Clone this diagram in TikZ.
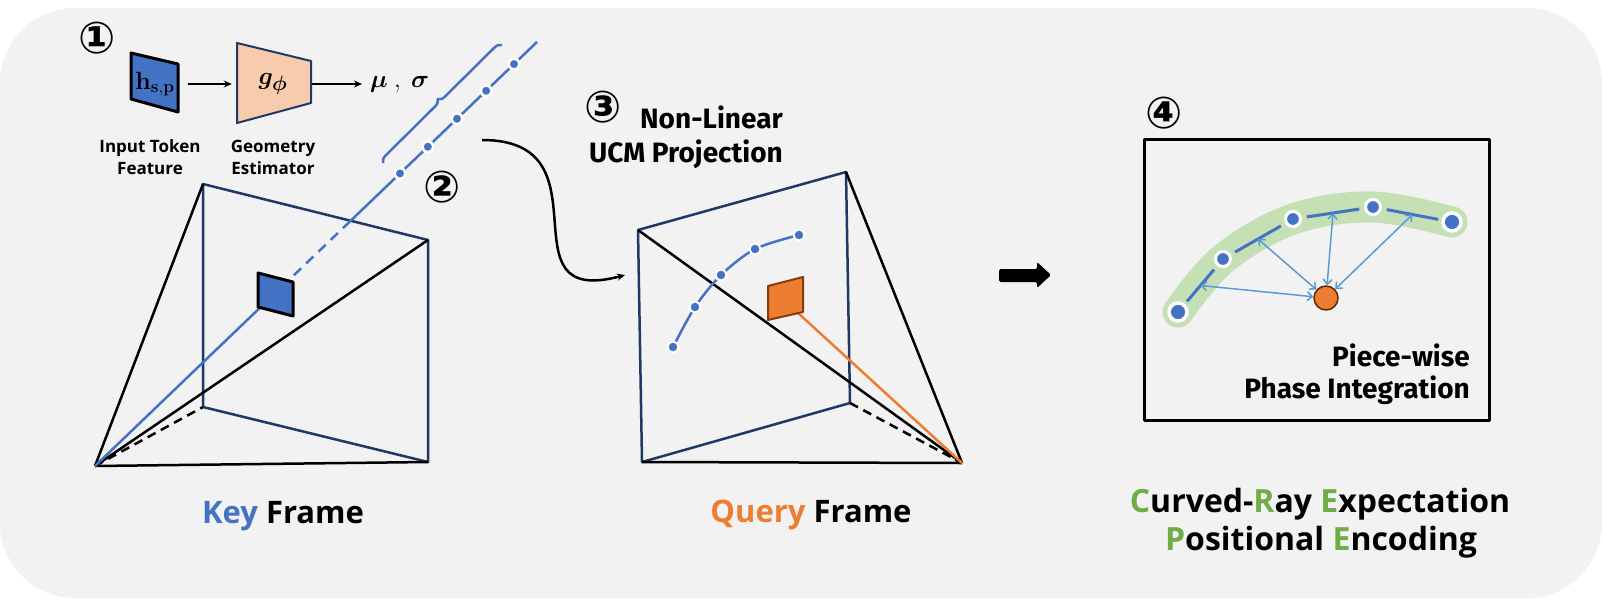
\documentclass[tikz,border=0pt]{standalone}
\usepackage[no-math]{fontspec}
\usepackage{bm}
\usepackage{xcolor}
\usetikzlibrary{positioning, arrows.meta, calc, decorations.pathreplacing}
\setmainfont{Open Sans}
\newfontfamily\dispfont{Fira Sans}
\newfontfamily\circfont{DejaVu Sans}
\definecolor{bggray}{HTML}{F2F2F2}
\definecolor{keyblue}{HTML}{4472C4}
\definecolor{navy}{HTML}{1F3864}
\definecolor{peach}{HTML}{F8CBAD}
\definecolor{qorange}{HTML}{ED7D31}
\definecolor{qbrown}{HTML}{843C0C}
\definecolor{lightblue}{HTML}{5B9BD5}
\definecolor{bandgreen}{HTML}{C5E0B4}
\definecolor{cregreen}{HTML}{70AD47}

\begin{document}
\begin{tikzpicture}[
    x = 1pt, y = -1pt,
    line join = round,
    plane/.style = {draw=navy, line width=2.5pt},
    edge/.style = {draw=black, line width=2.5pt},
    ray/.style = {draw=keyblue, line width=2.5pt},
    flow/.style = {-{Stealth[length=8pt, width=7pt]}, line width=1.5pt},
    pairarrow/.style = {{Straight Barb[length=5pt, width=9pt]}-{Straight Barb[length=5pt, width=9pt]}, draw=lightblue, line width=1.5pt},
    raydot/.style = {circle, fill=keyblue, draw=white, line width=2.5pt, minimum size=11pt, inner sep=0pt},
    bigdot/.style = {raydot, line width=3.5pt, minimum size=18pt},
    middot/.style = {raydot, line width=3pt, minimum size=15pt},
    numlabel/.style = {font=\circfont\bfseries\fontsize{44}{44}\selectfont, inner sep=0pt},
    caption/.style = {font=\bfseries\fontsize{17}{22}\selectfont, align=center, inner sep=0pt},
    framelabel/.style = {font=\bfseries\fontsize{31}{36}\selectfont, anchor=base, inner sep=0pt},
    disp/.style = {font=\dispfont\bfseries\fontsize{28}{32}\selectfont, anchor=base east, inner sep=0pt}
  ]
    \useasboundingbox (0,0) rectangle (1602,600);
    \fill[bggray, rounded corners=75pt] (0,8) rectangle (1602,598);  % 背景

    % ① 输入特征 -> 几何估计
    \node[numlabel] (n1) at (97,38) {①};
    \draw[fill=keyblue, draw=black, line width=3pt] (131,53) -- (178,64) -- (178,112) -- (131,99) -- cycle;
    \draw[fill=peach, draw=navy, line width=2pt] (237,43) -- (311,61) -- (311,103) -- (237,123) -- cycle;
    \node[minimum width=47pt, inner sep=0pt] (hsp) at (155,84) {\fontsize{24}{24}\selectfont$\mathbf{h}_{\mathbf{s,p}}$};
    \node[minimum width=74pt, inner sep=0pt] (gphi) at (273,84) {\fontsize{28}{28}\selectfont$\bm{g_{\phi}}$};
    \node[anchor=west, inner sep=0pt] (musig) at (370,84) {\fontsize{24}{24}\selectfont$\bm{\mu}\ ,\ \bm{\sigma}$};
    \draw[flow, shorten <=9pt, shorten >=4pt] (hsp) -- (gphi);
    \draw[flow, shorten <=2pt, shorten >=8pt] (gphi) -- (musig);
    \node[caption] (captok) at (150,157) {Input Token\\Feature};
    \node[caption] (capgeo) at (273,157) {Geometry\\Estimator};

    % Key 帧
    \coordinate (ko) at (95,466);
    \coordinate (ktl) at (203,184);
    \coordinate (ktr) at (428,240);
    \coordinate (kbr) at (428,462);
    \coordinate (kbl) at (203,407);
    \coordinate (kend) at (537,42);
    \draw[plane] (ktl) -- (ktr) -- (kbr) -- (kbl) -- cycle;
    \draw[edge] (ko) -- (ktl);
    \draw[edge] (ko) -- (ktr);
    \draw[edge] (ko) -- (kbr);
    \draw[edge, dash pattern=on 9pt off 6pt] (ko) -- (kbl);
    \draw[ray] (ko) -- ($(ko)!0.41!(kend)$);
    \draw[ray, dash pattern=on 10pt off 7pt] ($(ko)!0.45!(kend)$) -- ($(ko)!0.57!(kend)$);
    \draw[ray] ($(ko)!0.57!(kend)$) -- (kend);
    \draw[fill=keyblue, draw=black, line width=3pt] (258,273) -- (293,282) -- (293,316) -- (258,307) -- cycle;
    \foreach \t [count=\i] in {0.69, 0.753, 0.819, 0.885, 0.948}
        \node[raydot] (r\i) at ($(ko)!\t!(kend)$) {};
    \draw[ray, decorate, decoration={brace, amplitude=7pt}] (383,163) -- (502,45);
    \node[numlabel] (n2) at (442,187) {②};
    \node[framelabel] (keylab) at (283,523) {\textcolor{keyblue}{Key} Frame};

    % ③ 非线性投影
    \node[numlabel] (n3) at (603,107) {③};
    \node[disp] (nonlin) at (783,128) {Non-Linear};
    \node[disp] (ucm) at (783,162) {UCM Projection};
    \coordinate (cs) at (482,140);
    \coordinate (ce) at (625,275);
    \draw[flow, line width=2.5pt] (cs) to[out=0, in=195, looseness=1.7] (ce);

    % Query 帧
    \coordinate (qo) at (962,463);
    \coordinate (qtl) at (638,230);
    \coordinate (qtr) at (846,172);
    \coordinate (qbr) at (850,403);
    \coordinate (qbl) at (642,462);
    \draw[plane] (qtl) -- (qtr) -- (qbr) -- (qbl) -- cycle;
    \draw[edge] (qbl) -- (qo);
    \draw[edge] (qtl) -- (qo);
    \draw[edge] (qtr) -- (qo);
    \draw[edge, dash pattern=on 9pt off 6pt] (qbr) -- (qo);
    \draw[draw=qorange, line width=2.5pt] (798,313) -- (qo);
    \draw[fill=qorange, draw=qbrown, line width=2pt] (768,286) -- (803,277) -- (803,312) -- (768,320) -- cycle;
    \draw[ray] plot[smooth, tension=0.5] coordinates {(673,347) (695,307) (721,275) (755,249) (799,235)};
    \foreach \x/\y [count=\i] in {673/347, 695/307, 721/275, 755/249, 799/235}
        \node[raydot, line width=2pt] (q\i) at (\x,\y) {};
    \node[framelabel] (querylab) at (811,522) {\textcolor{qorange}{Query} Frame};

    % 箭头
    \fill[rounded corners=1.5pt] (999,269) -- (1037,269) -- (1037,262) -- (1051,275) -- (1037,288) -- (1037,282) -- (999,282) -- cycle;

    % ④ 分段相位积分
    \node[numlabel] (n4) at (1164,113) {④};
    \node[draw=black, line width=3pt, minimum width=345pt, minimum height=281pt, inner sep=0pt] (pebox) at (1316.5,279.5) {};
    \draw[bandgreen, line width=31pt, line cap=round] plot[smooth, tension=0.6] coordinates {(1178,312) (1223,259) (1293,219) (1373,207) (1452,222)};
    \foreach \x/\y [count=\i] in {1178/312, 1223/259, 1293/219, 1373/207, 1452/222}
        \coordinate (d\i) at (\x,\y);
    \foreach \a/\b in {1/2, 2/3, 3/4, 4/5} {
        \draw[keyblue, line width=3pt, shorten <=14pt, shorten >=14pt] (d\a) -- (d\b);
        \coordinate (m\a) at ($(d\a)!0.5!(d\b)$);
    }
    \node[bigdot] (p1) at (d1) {};
    \node[middot] (p2) at (d2) {};
    \node[middot] (p3) at (d3) {};
    \node[middot] (p4) at (d4) {};
    \node[bigdot] (p5) at (d5) {};
    \node[circle, fill=qorange, draw=qbrown!70!black, line width=1.5pt, minimum size=24pt, inner sep=0pt] (qdot) at (1326,298) {};
    \foreach \i in {1,...,4}
        \draw[pairarrow] (qdot) -- (m\i);
    \node[disp] (piece) at (1470,366) {Piece-wise};
    \node[disp] (phase) at (1470,398) {Phase Integration};

    % 名称
    \node[framelabel, font=\bfseries\fontsize{32}{36}\selectfont] (crelab1) at (1320,512) {\textcolor{cregreen}{C}urved-\textcolor{cregreen}{R}ay \textcolor{cregreen}{E}xpectation};
    \node[framelabel, font=\bfseries\fontsize{32}{36}\selectfont] (crelab2) at (1321,550) {\textcolor{cregreen}{P}ositional \textcolor{cregreen}{E}ncoding};
\end{tikzpicture}
\end{document}
